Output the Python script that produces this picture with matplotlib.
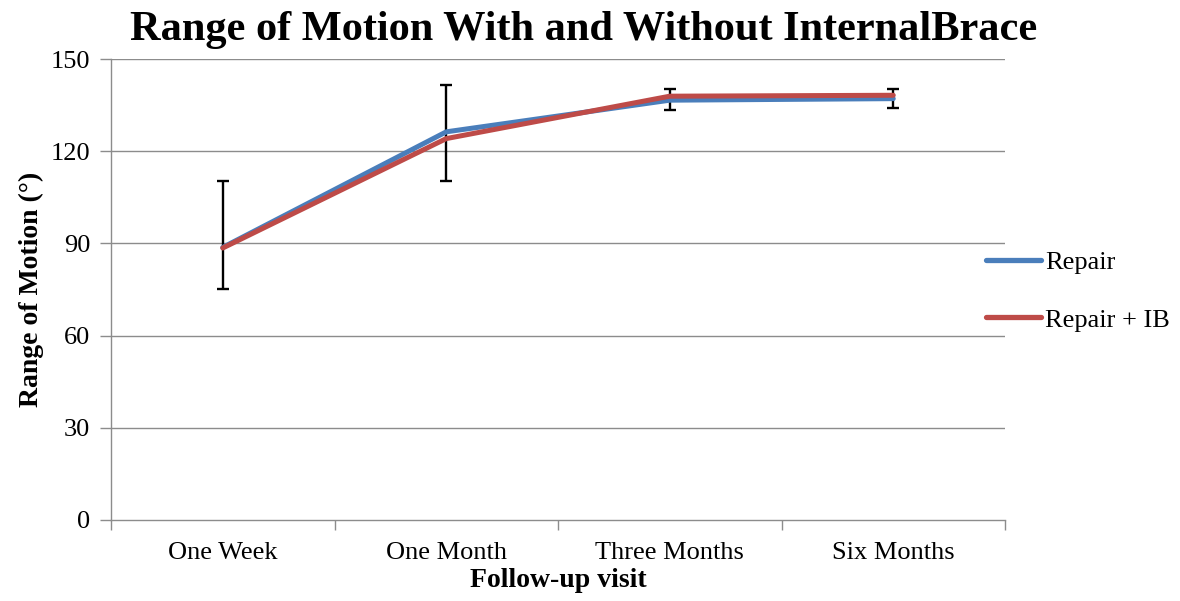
import matplotlib
matplotlib.use("Agg")
import matplotlib.pyplot as plt
import numpy as np

categories = ["One Week", "One Month", "Three Months", "Six Months"]
repair = [88.7, 126.3, 136.6, 137.1]
repair_ib = [88.5, 124.1, 137.9, 138.2]
err_low = [75.3, 110.2, 133.4, 134.1]
err_high = [110.2, 141.5, 140.2, 140.2]
yticks = [0, 30, 60, 90, 120, 150]

plt.rcParams['font.family'] = ['Liberation Serif', 'DejaVu Serif']

fig = plt.figure(figsize=(11.8, 6.01), dpi=100)
ax = fig.add_axes([111/1180, 1 - 520/601, (1005 - 111)/1180, (520 - 59)/601])

x = np.arange(len(categories))
ax.set_xlim(-0.5, len(categories) - 0.5)
ax.set_ylim(0, 150)

grid_c = '#8c8c8c'
for t in yticks[1:]:
    ax.axhline(t, color=grid_c, lw=1.0, zorder=1)

base = np.array(repair)
yerr = [base - np.array(err_low), np.array(err_high) - base]
ax.errorbar(x, base, yerr=yerr, fmt='none', ecolor='black', elinewidth=1.7,
            capsize=4.5, capthick=1.7, zorder=2)

ax.plot(x, repair, color='#4A7EBB', lw=3.6, label='Repair', zorder=3,
        solid_capstyle='round')
ax.plot(x, repair_ib, color='#BE4B48', lw=3.6, label='Repair + IB', zorder=4,
        solid_capstyle='round')

ax.set_yticks(yticks)
ax.set_yticklabels([str(t) for t in yticks])
ax.set_xticks(x)
ax.set_xticklabels(categories)
ax.set_xticks(np.arange(len(categories) + 1) - 0.5, minor=True)
ax.tick_params(axis='x', which='major', length=0, pad=16, labelsize=19)
ax.tick_params(axis='x', which='minor', length=7, color=grid_c, width=1.0, direction='out')
ax.tick_params(axis='y', length=8, color=grid_c, width=1.0, direction='out',
               pad=7, labelsize=19)

for s in ['top', 'right']:
    ax.spines[s].set_visible(False)
for s in ['left', 'bottom']:
    ax.spines[s].set_color(grid_c)
    ax.spines[s].set_linewidth(1.0)

ax.set_xlabel('Follow-up visit', fontsize=20, fontweight='bold', labelpad=3)
ax.set_ylabel('Range of Motion (°)', fontsize=20, fontweight='bold', labelpad=5)

fig.text(584/1180, 1 - 30/601, 'Range of Motion With and Without InternalBrace',
         ha='center', va='center', fontsize=30.5, fontweight='bold')

leg = ax.legend(loc='center left', bbox_to_anchor=(975/1180, 1 - 291/601),
                bbox_transform=fig.transFigure, frameon=False, fontsize=19,
                handlelength=2.1, handletextpad=0.15, labelspacing=1.3,
                borderaxespad=0)
for h in leg.get_lines():
    h.set_linewidth(3.8)

fig.savefig('out.png', dpi=100)
